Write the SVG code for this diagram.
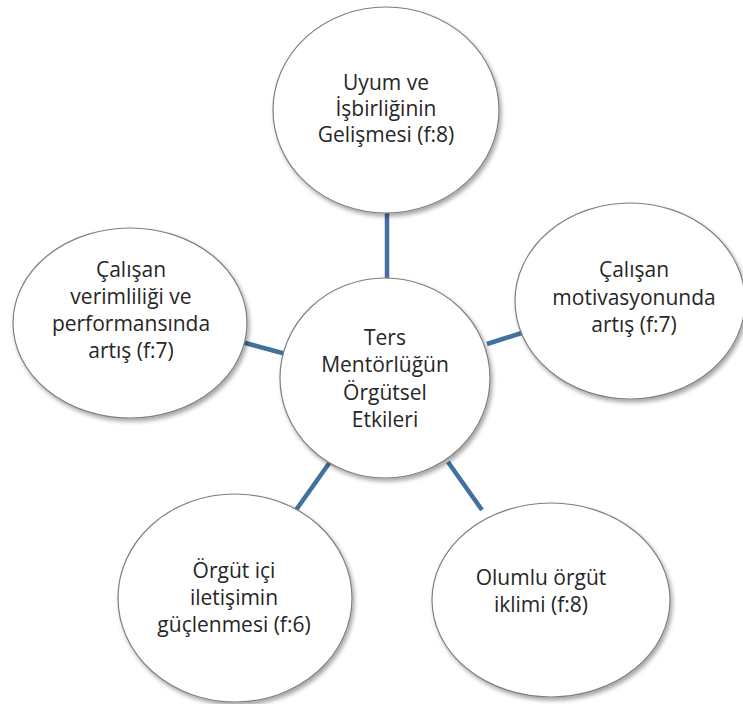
<svg xmlns="http://www.w3.org/2000/svg" width="743" height="704" viewBox="0 0 743 704">
<defs>
<filter id="sh" x="-10%" y="-10%" width="125%" height="125%">
<feDropShadow dx="2" dy="3" stdDeviation="2" flood-color="#000" flood-opacity="0.35"/>
</filter>
<style>
.n{fill:#fff;stroke:#7f7f7f;stroke-width:1.2;filter:url(#sh)}
.t{font-family:"Open Sans","Liberation Sans",sans-serif;font-size:21px;fill:#262626;text-anchor:middle}
.c{stroke:#41719c;stroke-width:4.5;fill:none}
</style>
</defs>
<rect width="743" height="704" fill="#fff"/>
<g id="connectors">
<line class="c" x1="387" y1="210" x2="387" y2="282"/>
<line class="c" x1="238" y1="341" x2="286" y2="354"/>
<line class="c" x1="487" y1="344" x2="528" y2="331"/>
<line class="c" x1="330" y1="462" x2="296" y2="510"/>
<line class="c" x1="448" y1="462" x2="482" y2="510"/>
</g>
<g id="n-top">
<ellipse class="n" cx="386" cy="110" rx="113" ry="103"/>
<text class="t" x="386" y="90">Uyum ve</text>
<text class="t" x="386" y="116">İşbirliğinin</text>
<text class="t" x="386" y="142">Gelişmesi (f:8)</text>
</g>
<g id="n-left">
<ellipse class="n" cx="130" cy="323" rx="117" ry="95"/>
<text class="t" x="131" y="277">Çalışan</text>
<text class="t" x="131" y="304">verimliliği ve</text>
<text class="t" x="131" y="331">performansında</text>
<text class="t" x="131" y="358">artış (f:7)</text>
</g>
<g id="n-right">
<ellipse class="n" cx="630" cy="301" rx="115" ry="98"/>
<text class="t" x="634" y="277">Çalışan</text>
<text class="t" x="634" y="305">motivasyonunda</text>
<text class="t" x="634" y="332">artış (f:7)</text>
</g>
<g id="n-bl">
<ellipse class="n" cx="235" cy="598" rx="117" ry="104"/>
<text class="t" x="234" y="578">Örgüt içi</text>
<text class="t" x="234" y="605">iletişimin</text>
<text class="t" x="234" y="632">güçlenmesi (f:6)</text>
</g>
<g id="n-br">
<ellipse class="n" cx="551" cy="600" rx="119" ry="97"/>
<text class="t" x="541" y="585">Olumlu örgüt</text>
<text class="t" x="541" y="612">iklimi (f:8)</text>
</g>
<g id="n-center">
<ellipse class="n" cx="385" cy="378" rx="105" ry="100"/>
<text class="t" x="385" y="345">Ters</text>
<text class="t" x="385" y="372">Mentörlüğün</text>
<text class="t" x="385" y="400">Örgütsel</text>
<text class="t" x="385" y="427">Etkileri</text>
</g>
</svg>
